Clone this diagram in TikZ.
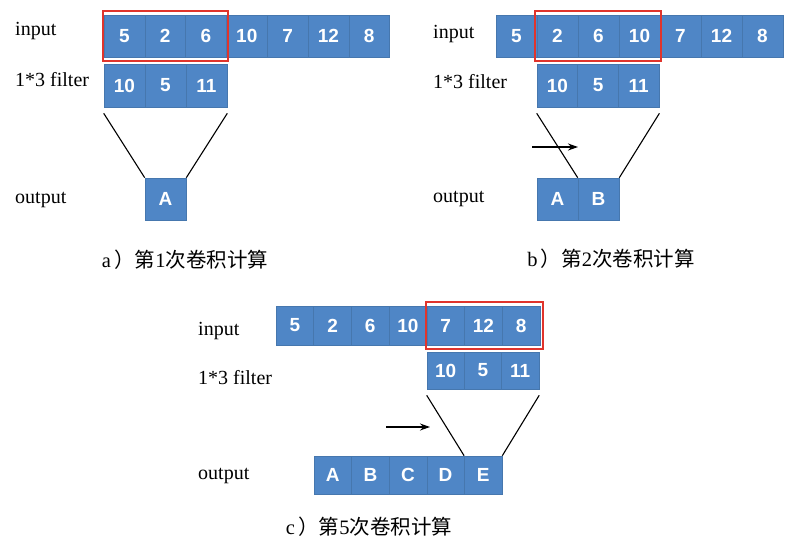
\documentclass[tikz,border=0pt]{standalone}
\usepackage{fontspec}
\setmainfont{Liberation Serif}
\newfontfamily\cjk{Noto Sans CJK SC}
\newfontfamily\cellfam{Liberation Sans}
\usetikzlibrary{arrows.meta}
\definecolor{cellblue}{HTML}{4F86C6}
\definecolor{sepblue}{HTML}{4677AE}
\definecolor{boxred}{HTML}{E0342C}
\tikzset{
  cell/.style={rectangle, draw=sepblue, line width=0.6pt, fill=cellblue, text=white,
    font=\cellfam\bfseries\fontsize{19}{21}\selectfont, inner sep=0pt},
  lbl/.style={anchor=base west, inner sep=0pt, font=\fontsize{20}{24}\selectfont},
  captiontext/.style={inner sep=0pt, font=\fontsize{20.5}{24}\selectfont},
  redbox/.style={draw=boxred, line width=2.4pt},
  conn/.style={draw=black, line width=1.1pt},
  movearrow/.style={draw=black, line width=1.5pt, -{Stealth[length=10pt,width=7pt]}},
}
\begin{document}
\begin{tikzpicture}[x=1pt,y=-1pt]
\useasboundingbox (0,0) rectangle (791,543);
\fill[white] (0,0) rectangle (791,543);

% ---------- panel a ----------
\foreach \v [count=\i] in {5,2,6,10,7,12,8}
  \node[cell, minimum width=40.8pt, minimum height=42pt] (ai\i) at ({104+40.8*(\i-0.5)},36) {\v};
\foreach \v [count=\i] in {10,5,11}
  \node[cell, minimum width=41pt, minimum height=43pt] (af\i) at ({104+41*(\i-0.5)},85.5) {\v};
\node[cell, minimum width=41pt, minimum height=42pt] (ao1) at (165.5,199) {A};
\draw[redbox] (103,11) rectangle (228,61);
\draw[conn] ([yshift=-6pt]af1.south west) -- (ao1.north west);
\draw[conn] ([yshift=-6pt]af3.south east) -- (ao1.north east);
\node[lbl] (ainl) at (15,36) {input};
\node[lbl] (afl) at (15,86) {1*3 filter};
\node[lbl] (aol) at (15,203) {output};
\node[captiontext] (acap) at (185,260) {a\,{\cjk ）第}1{\cjk 次卷积计算}};

% ---------- panel b ----------
\foreach \v [count=\i] in {5,2,6,10,7,12,8}
  \node[cell, minimum width=41pt, minimum height=42pt] (bi\i) at ({496+41*(\i-0.5)},36) {\v};
\foreach \v [count=\i] in {10,5,11}
  \node[cell, minimum width=40.7pt, minimum height=43pt] (bf\i) at ({537+40.7*(\i-0.5)},85.5) {\v};
\foreach \v [count=\i] in {A,B}
  \node[cell, minimum width=41pt, minimum height=42pt] (bo\i) at ({537+41*(\i-0.5)},199) {\v};
\draw[redbox] (535,11) rectangle (661,61);
\draw[conn] ([yshift=-6pt]bf1.south west) -- (bo2.north west);
\draw[conn] ([yshift=-6pt]bf3.south east) -- (bo2.north east);
\coordinate (barrs) at (532,147);
\coordinate (barre) at (578,147);
\draw[movearrow] (barrs) -- (barre);
\node[lbl] (binl) at (433,39) {input};
\node[lbl] (bfl) at (433,88) {1*3 filter};
\node[lbl] (bol) at (433,202) {output};
\node[captiontext] (bcap) at (611,259) {b\,{\cjk ）第}2{\cjk 次卷积计算}};

% ---------- panel c ----------
\foreach \v [count=\i] in {5,2,6,10,7,12,8}
  \node[cell, minimum width=37.7pt, minimum height=39pt] (ci\i) at ({276+37.7*(\i-0.5)},325.5) {\v};
\foreach \v [count=\i] in {10,5,11}
  \node[cell, minimum width=37.3pt, minimum height=37pt] (cf\i) at ({427+37.3*(\i-0.5)},370.5) {\v};
\foreach \v [count=\i] in {A,B,C,D,E}
  \node[cell, minimum width=37.6pt, minimum height=38pt] (co\i) at ({314+37.6*(\i-0.5)},475) {\v};
\draw[redbox] (426,302) rectangle (543,349);
\draw[conn] ([yshift=-6pt]cf1.south west) -- (co5.north west);
\draw[conn] ([yshift=-6pt]cf3.south east) -- (co5.north east);
\coordinate (carrs) at (386,427);
\coordinate (carre) at (430,427);
\draw[movearrow] (carrs) -- (carre);
\node[lbl] (cinl) at (198,335) {input};
\node[lbl] (cfl) at (198,384) {1*3 filter};
\node[lbl] (col) at (198,479) {output};
\node[captiontext] (ccap) at (369,527) {c\,{\cjk ）第}5{\cjk 次卷积计算}};
\end{tikzpicture}
\end{document}
